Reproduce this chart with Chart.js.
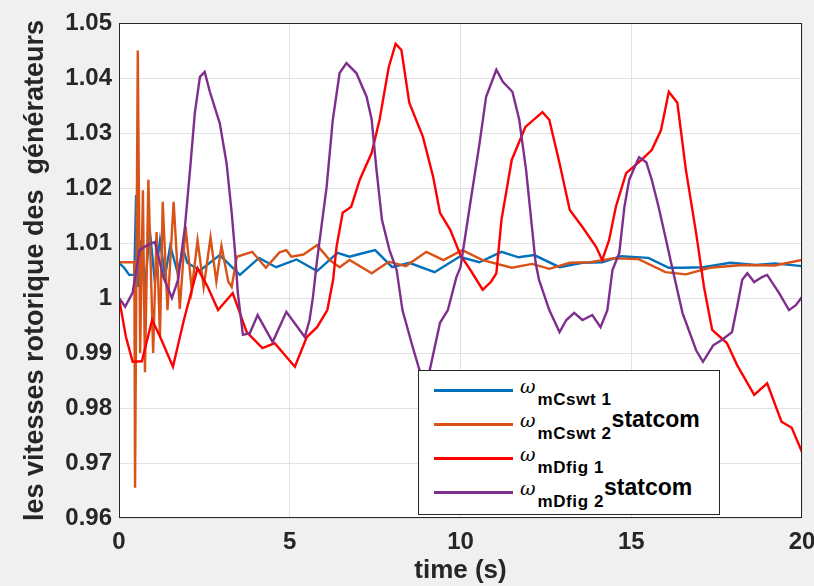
<!DOCTYPE html>
<html lang="fr">
<head>
  <meta charset="UTF-8" />
  <title>Vitesses rotoriques des générateurs</title>
  <script src="https://cdn.jsdelivr.net/npm/chart.js@4"></script>
  <style>
    body {
      margin: 0;
      background-color: #f0f0f0;
      font-family: 'Liberation Sans', Arial, sans-serif;
    }

    .wrap {
      position: relative;
      width: 814px;
      height: 586px;
    }

    .legend {
      position: absolute;
      left: 418px;
      top: 370px;
      width: 300px;
      height: 143px;
      background-color: #fff;
      border: 1px solid #262626;
    }

    .swatch {
      position: absolute;
      left: 15px;
      width: 79px;
      height: 3px;
    }

    .label {
      position: absolute;
      left: 101px;
      white-space: nowrap;
      line-height: 1;
      font-size: 23px;
      font-weight: bold;
      color: #000;
    }

    .label .w {
      font-family: 'DejaVu Serif', serif;
      font-style: italic;
      font-weight: normal;
      font-size: 19px;
    }

    .label .sub {
      font-size: 17px;
      letter-spacing: 0.6px;
      vertical-align: -12px;
      margin-left: 2px;
    }
  </style>
</head>
<body>
  <div class="wrap">
    <canvas id="speedChart" width="814" height="586"></canvas>
    <div class="legend" id="legend"></div>
  </div>

  <script>
    // axis ticks
    const xTicks = [0, 5, 10, 15, 20];
    const yTicks = [0.96, 0.97, 0.98, 0.99, 1.00, 1.01, 1.02, 1.03, 1.04, 1.05];
    const yTickLabels = ['0.96', '0.97', '0.98', '0.99', '1', '1.01', '1.02', '1.03', '1.04', '1.05'];

    // wmCswt1 (blue)
    const tBlue = [0, 0.15, 0.3, 0.45, 0.5, 0.56, 0.65, 0.75, 0.9, 1.05, 1.2, 1.35, 1.5, 1.7, 1.9, 2.0,
      2.37, 2.95, 3.54, 4.1, 4.6, 5.2, 5.8, 6.4, 6.75, 7.05, 7.5, 8.0, 8.5, 9.24, 9.97, 10.55, 11.2,
      11.7, 12.16, 12.9, 13.57, 14.15, 14.7, 15.5, 16.1, 16.5, 17.1, 17.9, 18.65, 19.2, 20];
    const vBlue = [1.0064, 1.0055, 1.0042, 1.0042, 1.0187, 1.002, 1.0105, 1.001, 1.0124, 1.003, 1.0105,
      1.004, 1.0095, 1.005, 1.0085, 1.0064, 1.005, 1.0078, 1.0042, 1.0073, 1.0056, 1.007, 1.0049, 1.0082,
      1.0075, 1.008, 1.0087, 1.0056, 1.0064, 1.0047, 1.0075, 1.0065, 1.0084, 1.0074, 1.0078, 1.0056,
      1.0064, 1.0065, 1.0076, 1.0073, 1.0055, 1.0055, 1.0056, 1.0064, 1.006, 1.0063, 1.0058];

    // wmCswt2 statcom (orange)
    const tOrange = [0, 0.45, 0.47, 0.55, 0.62, 0.7, 0.76, 0.86, 1.0, 1.1, 1.2, 1.28, 1.42, 1.6, 1.78,
      1.95, 2.13, 2.3, 2.48, 2.68, 2.85, 3.0, 3.2, 3.3, 3.45, 3.9, 4.3, 4.7, 4.9, 5.05, 5.4, 5.8, 6.17,
      6.46, 6.75, 7.4, 7.9, 8.4, 9.0, 9.5, 10.05, 10.65, 11.5, 12.1, 12.6, 13.2, 13.8, 14.45, 15.2, 16.0,
      16.6, 17.3, 18.25, 19.2, 20];
    const vOrange = [1.0065, 1.0065, 0.9655, 1.045, 0.99, 1.0196, 0.9865, 1.0215, 0.99, 1.012, 0.993,
      1.0175, 0.9978, 1.0175, 0.998, 1.013, 1.0015, 1.0105, 1.002, 1.011, 1.003, 1.0095, 1.003, 1.002,
      1.0075, 1.0084, 1.0055, 1.0083, 1.0087, 1.0075, 1.0079, 1.0096, 1.0069, 1.0056, 1.0069, 1.0045,
      1.0066, 1.0058, 1.0084, 1.0069, 1.0087, 1.0069, 1.0055, 1.0062, 1.0053, 1.0064, 1.0065, 1.0072,
      1.0071, 1.0047, 1.0043, 1.0055, 1.006, 1.0059, 1.0069];

    // wmDfig1 (red)
    const tRed = [0, 0.2, 0.4, 0.67, 0.97, 1.2, 1.58, 1.9, 2.3, 2.6, 2.9, 3.33, 3.74, 4.2, 4.56, 5.15,
      5.5, 5.8, 6.1, 6.27, 6.37, 6.55, 6.8, 7.05, 7.4, 7.63, 7.9, 8.1, 8.27, 8.5, 8.9, 9.2, 9.4, 9.7,
      10.0, 10.3, 10.65, 10.9, 11.05, 11.2, 11.5, 11.9, 12.4, 12.6, 12.9, 13.2, 13.57, 13.97, 14.15,
      14.35, 14.55, 14.85, 15.3, 15.6, 15.87, 16.1, 16.35, 16.6, 16.9, 17.13, 17.37, 17.8, 18.1, 18.6,
      18.98, 19.4, 19.7, 20];
    const vRed = [1.0, 0.993, 0.9884, 0.9885, 0.996, 0.993, 0.9875, 0.996, 1.0054, 1.002, 0.9978, 1.0009,
      0.9938, 0.9909, 0.9918, 0.9875, 0.9929, 0.9947, 0.9978, 1.0033, 1.0093, 1.0155, 1.0166, 1.0215,
      1.0264, 1.0324, 1.042, 1.0462, 1.0451, 1.0355, 1.0293, 1.022, 1.0155, 1.0124, 1.0078, 1.005, 1.0015,
      1.003, 1.0045, 1.0142, 1.0251, 1.0311, 1.0338, 1.0324, 1.0245, 1.016, 1.0129, 1.0093, 1.0069,
      1.0105, 1.0166, 1.0227, 1.0251, 1.0269, 1.0305, 1.0375, 1.0355, 1.0233, 1.0118, 1.002, 0.9942,
      0.9918, 0.9878, 0.9824, 0.9845, 0.9775, 0.9764, 0.972];

    // wmDfig2 statcom (purple)
    const tPurple = [0, 0.18, 0.4, 0.6, 0.8, 1.05, 1.3, 1.55, 1.73, 1.93, 2.08, 2.22, 2.37, 2.51, 2.66,
      2.95, 3.15, 3.3, 3.4, 3.48, 3.63, 3.83, 4.06, 4.5, 4.9, 5.44, 5.58, 5.68, 5.8, 6.08, 6.26, 6.46,
      6.66, 6.95, 7.25, 7.4, 7.54, 7.7, 7.92, 8.13, 8.3, 8.6, 8.8, 8.95, 9.1, 9.4, 9.63, 9.88, 10.0,
      10.27, 10.56, 10.75, 11.05, 11.24, 11.52, 11.72, 11.92, 12.07, 12.2, 12.3, 12.6, 12.9, 13.1, 13.33,
      13.57, 13.86, 14.1, 14.3, 14.45, 14.65, 14.8, 14.94, 15.1, 15.23, 15.44, 15.6, 15.8, 16.0, 16.2,
      16.5, 16.9, 17.1, 17.4, 17.66, 17.95, 18.1, 18.25, 18.4, 18.6, 18.83, 18.98, 19.33, 19.62, 19.82, 20];
    const vPurple = [1.0, 0.9984, 1.001, 1.0087, 1.0095, 1.0102, 1.0038, 1.0, 1.0033, 1.0129, 1.0233,
      1.0336, 1.0402, 1.0411, 1.0375, 1.0318, 1.0245, 1.0155, 1.0082, 1.0009, 0.9933, 0.9936, 0.9969,
      0.992, 0.9975, 0.9929, 0.996, 1.0002, 1.0069, 1.0202, 1.0324, 1.0409, 1.0427, 1.0409, 1.0366,
      1.0324, 1.0233, 1.0142, 1.0087, 1.0051, 0.9978, 0.9911, 0.9869, 0.9845, 0.9869, 0.9955, 0.9978,
      1.0038, 1.0056, 1.0166, 1.0282, 1.0366, 1.0415, 1.0393, 1.0375, 1.0324, 1.0233, 1.0142, 1.0064,
      1.0033, 0.9978, 0.9938, 0.996, 0.9973, 0.996, 0.9969, 0.9947, 0.9978, 1.0051, 1.0082, 1.0166,
      1.0215, 1.0238, 1.0256, 1.0247, 1.0215, 1.0166, 1.0111, 1.0055, 0.9973, 0.9905, 0.9884, 0.9914,
      0.9924, 0.9938, 0.9984, 1.0033, 1.0045, 1.0029, 1.0038, 1.0042, 1.0009, 0.9978, 0.9987, 1.0002];

    const series = [
      { sub: 'mCswt 1', extra: '', color: '#0072bd', t: tBlue, v: vBlue, order: 3 },
      { sub: 'mCswt 2', extra: 'statcom', color: '#d95319', t: tOrange, v: vOrange, order: 2 },
      { sub: 'mDfig 1', extra: '', color: '#ff0000', t: tRed, v: vRed, order: 1 },
      { sub: 'mDfig 2', extra: 'statcom', color: '#7e2f8e', t: tPurple, v: vPurple, order: 0 }
    ];

    function toPoints(t, v) {
      return t.map((x, i) => ({ x, y: v[i] }));
    }

    // white plot area + dark frame like matlab axes
    const axesBox = {
      id: 'axesBox',
      beforeDraw(chart) {
        const { ctx, chartArea: a } = chart;
        ctx.save();
        ctx.fillStyle = '#ffffff';
        ctx.fillRect(a.left, a.top, a.right - a.left, a.bottom - a.top);
        ctx.restore();
      },
      afterDatasetsDraw(chart) {
        const { ctx, chartArea: a } = chart;
        ctx.save();
        ctx.strokeStyle = '#262626';
        ctx.lineWidth = 1;
        ctx.strokeRect(a.left + 0.5, a.top + 0.5, a.right - a.left - 1, a.bottom - a.top - 1);
        ctx.restore();
      }
    };

    new Chart(document.getElementById('speedChart'), {
      type: 'line',
      data: {
        datasets: series.map(s => ({
          label: s.sub + (s.extra ? ' ' + s.extra : ''),
          data: toPoints(s.t, s.v),
          borderColor: s.color,
          borderWidth: 2.4,
          pointRadius: 0,
          tension: 0,
          fill: false,
          order: s.order
        }))
      },
      options: {
        responsive: false,
        animation: false,
        devicePixelRatio: 1,
        layout: { padding: { top: 23, right: 12, left: 0, bottom: 0 } },
        plugins: { legend: { display: false }, tooltip: { enabled: false } },
        scales: {
          x: {
            type: 'linear',
            min: 0,
            max: 20,
            afterBuildTicks: axis => { axis.ticks = xTicks.map(v => ({ value: v })); },
            afterFit: scale => {
              scale.height = 68;
              scale.paddingLeft = 0;
              scale.paddingRight = 0;
            },
            grid: { color: '#e2e2e2', drawTicks: false },
            border: { display: false },
            ticks: {
              padding: 10,
              maxRotation: 0,
              color: '#262626',
              font: { family: 'Liberation Sans', size: 24, weight: 'bold' }
            },
            title: {
              display: true,
              text: 'time (s)',
              color: '#262626',
              padding: { top: 0, bottom: 0 },
              font: { family: 'Liberation Sans', size: 26, weight: 'bold' }
            }
          },
          y: {
            min: 0.96,
            max: 1.05,
            afterBuildTicks: axis => { axis.ticks = yTicks.map(v => ({ value: v })); },
            afterFit: scale => {
              scale.width = 119;
              scale.paddingTop = 0;
              scale.paddingBottom = 0;
            },
            grid: { color: '#e2e2e2', drawTicks: false },
            border: { display: false },
            ticks: {
              padding: 7,
              color: '#262626',
              font: { family: 'Liberation Sans', size: 24, weight: 'bold' },
              callback: (value, i) => yTickLabels[i]
            },
            title: {
              display: true,
              text: 'les vitesses rotorique des  générateurs',
              color: '#262626',
              padding: { top: 19, bottom: 0 },
              font: { family: 'Liberation Sans', size: 27, weight: 'bold' }
            }
          }
        }
      },
      plugins: [axesBox]
    });

    // legend with subscripts, built as html on top of the axes
    const legend = document.getElementById('legend');
    series.forEach((s, i) => {
      const yc = 19 + i * 34;
      const sw = document.createElement('div');
      sw.className = 'swatch';
      sw.style.top = (yc - 1.5) + 'px';
      sw.style.background = s.color;
      legend.appendChild(sw);

      const lab = document.createElement('div');
      lab.className = 'label';
      lab.style.top = (yc - 16.5) + 'px';
      lab.innerHTML = '<span class="w">ω</span><span class="sub">' + s.sub + '</span>' + s.extra;
      legend.appendChild(lab);
    });
  </script>
</body>
</html>
